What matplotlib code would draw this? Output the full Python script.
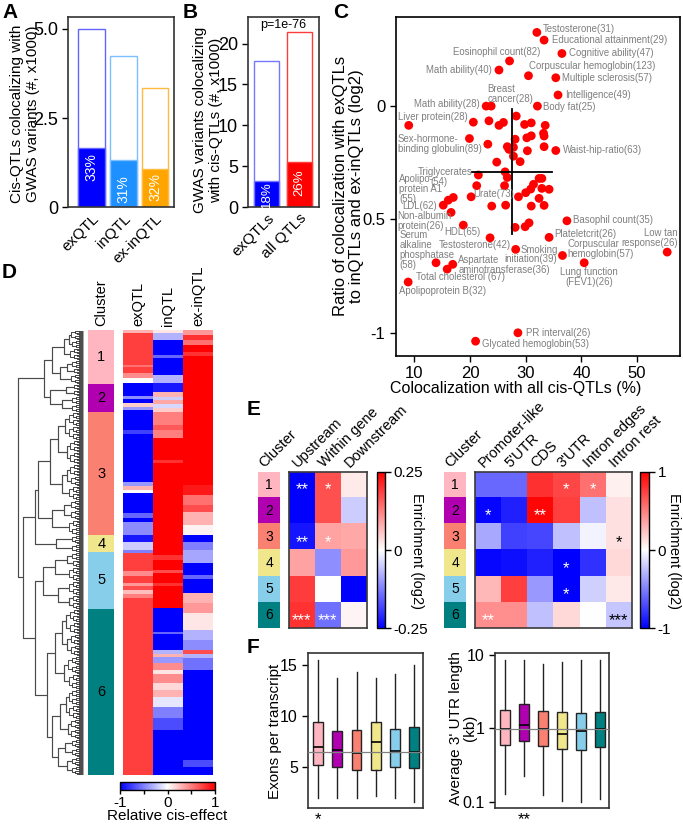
import numpy as np
import matplotlib
matplotlib.use('Agg')
import matplotlib.pyplot as plt
from matplotlib.collections import LineCollection
from matplotlib.colors import ListedColormap, Normalize
import matplotlib.cm as cm
from matplotlib.ticker import FixedLocator

plt.rcParams['font.family'] = ['Liberation Sans', 'DejaVu Sans']

# ---------------- DATA ----------------
# Panel A
A_labels = ["exQTL", "inQTL", "ex-inQTL"]
A_total = [5.0, 4.25, 3.33]
A_coloc = [1.65, 1.315, 1.06]
A_pct = ["33%", "31%", "32%"]
A_pct_pos = [1.14, 0.52, 0.57]
A_colors = ["#0000FF", "#1E90FF", "#FFA500"]
A_edges = ["#6464FF", "#7DBEFF", "#FFBA40"]

# Panel B
B_labels = ["exQTLs", "all QTLs"]
B_total = [17.9, 21.4]
B_coloc = [3.24, 5.56]
B_pct = ["18%", "26%"]
B_pct_pos = [1.55, 3.0]
B_colors = ["#0000FF", "#FF0000"]
B_edges = ["#7878FF", "#FF3C3C"]
B_pval = "p=1e-76"

# Panel C scatter points (colocalization %, log2 ratio)
C_x = [32.0, 33.3, 36.5, 27.1, 25.2, 30.5, 35.4, 35.8, 22.9, 23.8, 32.1, 9.0, 19.9, 35.4,
       21.5, 15.2, 16.1, 17.0, 16.6, 18.8, 23.6, 28.2, 34.2, 37.4, 36.6, 40.5, 55.4, 13.9,
       15.9, 16.9, 8.9, 28.6, 21.0,
       20.6, 23.4, 25.2, 26.0, 28.3, 29.8, 31.0, 33.5, 33.2, 33.3, 30.2, 31.0, 28.1, 23.2,
       26.7, 27.0, 27.8, 30.3, 33.3, 24.8, 27.8, 29.0, 26.3, 26.7, 32.9, 32.4, 21.2, 26.2,
       31.4, 30.9, 30.0, 32.9, 34.2, 28.7, 32.4, 20.2, 23.9, 26.4, 31.0, 33.3, 28.1, 29.9, 30.6]
C_y = [0.325, 0.291, 0.232, 0.199, 0.159, 0.134, 0.125, 0.049, 0.0, 0.0, 0.0, -0.085, -0.143, -0.196,
       -0.304, -0.437, -0.415, -0.403, -0.469, -0.525, -0.581, -0.632, -0.579, -0.506, -0.659, -0.691, -0.644, -0.691,
       -0.719, -0.698, -0.776, -1.0, -1.037,
       -0.071, -0.065, -0.085, -0.072, -0.044, -0.081, -0.074, -0.085, -0.12, -0.132, -0.14, -0.131, -0.146, -0.168,
       -0.179, -0.191, -0.182, -0.197, -0.179, -0.247, -0.221, -0.245, -0.29, -0.315, -0.319, -0.319, -0.351, -0.351,
       -0.345, -0.366, -0.382, -0.363, -0.367, -0.4, -0.407, -0.4, -0.441, -0.437, -0.441, -0.438, -0.535, -0.532, -0.515]
C_center = (27.5, -0.29)
C_xspan = (20.3, 34.8)
C_yspan = (-0.566, -0.013)
C_xticks = [10, 20, 30, 40, 50]
C_yticks = [0, -0.5, -1]
C_yticklabels = ["0", "0.5", "-1"]
C_labels = [
    ("Testosterone(31)", 32.98, 0.340, 'left'),
    ("Educational attainment(29)", 34.67, 0.290, 'left'),
    ("Cognitive ability(47)", 37.83, 0.232, 'left'),
    ("Eosinophil count(82)", 32.57, 0.240, 'right'),
    ("Math ability(40)", 23.9, 0.160, 'right'),
    ("Corpuscular hemoglobin(123)", 30.65, 0.176, 'left'),
    ("Multiple sclerosis(57)", 36.6, 0.124, 'left'),
    ("Intelligence(49)", 37.06, 0.047, 'left'),
    ("Breast\ncancer(28)", 23.17, 0.054, 'left'),
    ("Math ability(28)", 21.8, 0.0075, 'right'),
    ("Body fat(25)", 33.16, -0.006, 'left'),
    ("Liver protein(28)", 7.02, -0.047, 'left'),
    ("Sex-hormone-\nbinding globulin(89)", 7.02, -0.165, 'left'),
    ("Waist-hip-ratio(63)", 36.75, -0.194, 'left'),
    ("Triglycerates", 20.48, -0.291, 'right'),
    ("(54)", 12.8, -0.334, 'left'),
    ("Apolipo-\nprotein A1\n(55)", 7.3, -0.366, 'left'),
    ("Urate(73)", 20.5, -0.388, 'left'),
    ("LDL(62)", 7.85, -0.441, 'left'),
    ("Non-albumin\nprotein(26)", 7.0, -0.508, 'left'),
    ("HDL(65)", 21.97, -0.556, 'right'),
    ("Testosterone(42)", 27.36, -0.612, 'right'),
    ("Smoking", 29.16, -0.635, 'left'),
    ("initiation(39)", 26.16, -0.675, 'left'),
    ("Serum\nalkaline\nphosphatase\n(58)", 7.38, -0.633, 'left'),
    ("Aspartate\naminotransferase(36)", 17.9, -0.700, 'left'),
    ("Total cholesterol (67)", 10.25, -0.756, 'left'),
    ("Apolipoprotein B(32)", 7.25, -0.816, 'left'),
    ("Basophil count(35)", 38.55, -0.503, 'left'),
    ("Plateletcrit(26)", 35.14, -0.566, 'left'),
    ("Corpuscular\nhemoglobin(57)", 37.47, -0.630, 'left'),
    ("Low tan\nresponse(26)", 57.3, -0.583, 'right'),
    ("Lung function\n(FEV1)(26)", 41.36, -0.752, 'center'),
    ("PR interval(26)", 30.05, -1.003, 'left'),
    ("Glycated hemoglobin(53)", 22.2, -1.051, 'left'),
]

# Clusters
cluster_names = ["1", "2", "3", "4", "5", "6"]
cluster_colors = ["#FFB6C1", "#B000B0", "#FA8072", "#F0E68C", "#87CEEB", "#008080"]
cluster_sizes = [54, 28, 123, 17, 57, 166]

# Panel D dendrogram (height, left, right); integers are leaf groups (rows)
C1 = (0.48, (0.30, (0.22, 10, 8), 12), (0.35, (0.24, 8, 6), 10))
C2 = (0.51, (0.27, 6, 6), (0.33, 8, 8))
C3 = (0.70, (0.51, (0.39, (0.28, 14, 14), (0.25, 12, 12)), (0.33, (0.24, 12, 10), 14)),
      (0.48, (0.30, 10, 10), 15))
C4 = (0.42, 9, 8)
C5 = (0.62, (0.43, (0.25, 8, 7), 14), (0.39, 14, (0.22, 7, 7)))
C6 = (0.56, (0.43, (0.33, (0.27, 13, 12), (0.24, 11, 11)), (0.29, 18, 15)),
      (0.48, (0.36, (0.26, 16, 14), (0.23, 10, 10)), (0.39, (0.28, 9, 9), (0.25, 9, 9))))
D_tree = (1.0, (0.61, C1, C2), (0.92, (0.74, C3, C4), (0.74, C5, C6)))

# Panel D heatmap: (end row, relative cis-effect) segments per column
D_columns = ["exQTL", "inQTL", "ex-inQTL"]
D_exQTL = [(3, 0.3), (35, 0.75), (37, 0.55), (43, 0.75), (48, 0.45), (53, 0.0), (66, -1), (69, -0.45),
           (73, -1), (77, 0.2), (80, -0.4), (100, -1), (104, -0.75), (152, -1), (156, -0.4), (160, 0.3),
           (163, 0.0), (183, -1), (188, -0.6), (192, -1), (205, -0.45), (212, -0.9), (220, -0.2), (223, -0.5),
           (241, 0.75), (246, 0.45), (253, 0.75), (256, 0.4), (260, 0.7), (264, 0.25), (268, 0.5), (445, 0.75)]
D_inQTL = [(3, 0.1), (10, -0.3), (25, -1), (28, -0.6), (45, -1), (53, -0.3), (62, -0.9), (67, 0.3),
           (70, -0.2), (74, 0.35), (78, -0.15), (82, 0.2), (95, 0.5), (100, 0.65), (108, 0.5), (130, 1.0),
           (133, 0.8), (225, 1.0), (230, 0.8), (240, 1.0), (243, 0.7), (253, 1.0), (256, 0.8), (278, 1.0),
           (302, -1), (304, -0.6), (320, -1), (324, -0.3), (327, 0.3), (333, -0.4), (340, 0.45), (344, 0.1),
           (353, 0.45), (360, 0.15), (367, 0.3), (377, -0.1), (388, -0.5), (400, -0.7), (445, -1)]
D_exinQTL = [(5, 0.4), (10, 0.8), (15, 0.55), (22, 1.0), (26, 0.8), (155, 1.0), (165, 0.9), (175, 0.55),
             (182, 0.7), (195, 0.3), (205, 0.05), (212, -1), (220, -0.5), (233, -0.35), (245, -1), (249, -0.6),
             (263, -1), (273, 0.3), (283, 0.4), (300, 0.1), (310, -0.3), (320, -0.45), (324, 0.7), (328, -0.3),
             (340, -0.55), (430, -1), (437, -0.7), (445, -1)]

# Panel E
E1_cols = ["Upstream", "Within gene", "Downstream"]
E1_vals = [[-0.25, 0.17, 0.02],
           [-0.25, 0.17, -0.05],
           [-0.23, 0.09, 0.085],
           [0.09, -0.11, 0.10],
           [0.19, 0.0, -0.25],
           [0.20, -0.14, 0.01]]
E1_stars = [["**", "*", ""], ["", "", ""], ["**", "*", ""], ["", "", ""], ["", "", ""], ["***", "***", ""]]
E1_star_colors = [["w", "w", "w"]] * 6
E2_cols = ["Promoter-like", "5'UTR", "CDS", "3'UTR", "Intron edges", "Intron rest"]
E2_vals = [[-0.59, -0.59, 0.81, 0.72, 0.56, 0.06],
           [-0.98, -0.87, 0.97, 0.75, -0.25, 0.12],
           [-0.34, -0.75, -0.72, -0.25, -0.04, 0.12],
           [-0.97, -0.94, -0.87, -1.0, -0.81, 0.15],
           [0.28, 0.75, -0.40, -1.0, -0.18, 0.09],
           [0.44, 0.44, -0.25, 0.15, 0.0, -0.22]]
E2_stars = [["", "", "", "*", "*", ""],
            ["*", "", "**", "", "", ""],
            ["", "", "", "", "", "*"],
            ["", "", "", "*", "", ""],
            ["", "", "", "*", "", ""],
            ["**", "", "", "", "*", "***"]]
E2_star_colors = [["w", "w", "w", "w", "w", "k"]] * 6

# Panel F box summaries
F1_whislo = [2.0, 2.04, 2.04, 2.23, 2.04, 1.65]
F1_q1 = [5.2, 5.0, 4.74, 4.7, 5.0, 4.9]
F1_med = [7.0, 6.66, 6.37, 7.5, 6.63, 6.53]
F1_q3 = [9.4, 8.55, 8.6, 9.46, 8.78, 8.97]
F1_whishi = [15.5, 13.76, 14.34, 13.7, 14.08, 15.0]
F1_ref = 6.5
F2_whislo = [0.127, 0.226, 0.123, 0.103, 0.100, 0.109]
F2_q1 = [0.59, 0.68, 0.58, 0.52, 0.51, 0.55]
F2_med = [0.97, 1.11, 0.98, 0.83, 0.92, 0.99]
F2_q3 = [1.78, 2.15, 1.72, 1.65, 1.60, 1.69]
F2_whishi = [8.5, 8.5, 7.46, 8.1, 8.5, 8.5]
F2_ref = 0.97

# ---------------- FIGURE ----------------
W, H = 683, 836
fig = plt.figure(figsize=(W / 100, H / 100), dpi=100)


def add_ax(x0, y0, x1, y1):
    return fig.add_axes([x0 / W, 1 - y1 / H, (x1 - x0) / W, (y1 - y0) / H])


def ftext(x, y, s, **kw):
    return fig.text(x / W, 1 - y / H, s, **kw)


FRAME = '#333333'


def style_frame(ax, lw=1.2, color=FRAME):
    for sp in ax.spines.values():
        sp.set_linewidth(lw)
        sp.set_color(color)
    ax.tick_params(colors='black', width=1, length=4, direction='out')


# Panel letters
for lab, x, y in [("A", 2, 3), ("B", 183, 3), ("C", 333, 3), ("D", 2, 263), ("E", 247, 400), ("F", 247, 638)]:
    ftext(x, y, lab, fontsize=15, fontweight='bold', va='top', ha='left')

# ---- A ----
axA = add_ax(68.3, 17.3, 174.3, 207.3)
xa = np.arange(len(A_labels))
axA.bar(xa, A_total, width=0.84, facecolor='white', edgecolor=A_edges, linewidth=1.0)
axA.bar(xa, A_coloc, width=0.84, color=A_colors, edgecolor=A_edges, linewidth=1.0)
for i in range(len(xa)):
    axA.text(xa[i], A_pct_pos[i], A_pct[i], rotation=90, color='white', ha='center', va='center', fontsize=10)
axA.set_xlim(-0.74, 2.61)
axA.set_ylim(0, 5.32)
axA.set_yticks([0, 2.5, 5.0])
axA.set_yticklabels(["0", "2.5", "5.0"], fontsize=13)
axA.set_xticks(xa)
axA.set_xticklabels(A_labels, rotation=45, ha='right', rotation_mode='anchor', fontsize=11)
style_frame(axA)
axA.tick_params(axis='x', length=0, pad=3)
ftext(25, 114, "Cis-QTLs colocalizing with\nGWAS variants (#, x1000)", rotation=90, ha='center', va='center',
      fontsize=11, linespacing=1.15)

# ---- B ----
axB = add_ax(248.3, 17.3, 319.3, 207.3)
xb = np.arange(len(B_labels))
axB.bar(xb, B_total, width=0.77, facecolor='white', edgecolor=B_edges, linewidth=1.0)
axB.bar(xb, B_coloc, width=0.77, color=B_colors, edgecolor=B_edges, linewidth=1.0)
for i in range(len(xb)):
    axB.text(xb[i], B_pct_pos[i], B_pct[i], rotation=90, color='white', ha='center', va='center', fontsize=9.5)
axB.text(0.5, 22.3, B_pval, ha='center', va='center', fontsize=9)
axB.set_xlim(-0.57, 1.62)
axB.set_ylim(0, 23.2)
axB.set_yticks([0, 5, 10, 15, 20])
axB.set_yticklabels(["0", "5", "10", "15", "20"], fontsize=13)
axB.set_xticks(xb)
axB.set_xticklabels(B_labels, rotation=45, ha='right', rotation_mode='anchor', fontsize=11)
style_frame(axB)
axB.tick_params(axis='x', length=0, pad=3)
ftext(208, 120, "GWAS variants colocalizing\nwith cis-QTLs (#, x1000)", rotation=90, ha='center', va='center',
      fontsize=11, linespacing=1.15)

# ---- C ----
axC = add_ax(395.7, 17, 680, 355.7)
axC.scatter(C_x, C_y, s=40, color='#FF0000', edgecolors='none', zorder=3)
axC.plot([C_center[0], C_center[0]], C_yspan, color='black', lw=1.3, zorder=4)
axC.plot(C_xspan, [C_center[1], C_center[1]], color='black', lw=1.3, zorder=4)
for txt, x, y, ha in C_labels:
    axC.text(x, y, txt, ha=ha, va='center', fontsize=6.9, color='#7f7f7f', linespacing=1.0,
             multialignment=ha, zorder=5)
axC.set_xlim(6.66, 57.7)
axC.set_ylim(-1.101, 0.393)
axC.set_xticks(C_xticks)
axC.set_xticklabels([str(t) for t in C_xticks], fontsize=12)
axC.set_yticks(C_yticks)
axC.set_yticklabels(C_yticklabels, fontsize=12)
style_frame(axC, color='black')
ftext(348.5, 186, "Ratio of colocalization with exQTLs\nto inQTLs and ex-inQTLs (log2)", rotation=90,
      ha='center', va='center', fontsize=12, linespacing=1.1)
ftext(516, 388, "Colocalization with all cis-QTLs (%)", ha='center', va='center', fontsize=11.5)

# ---- D ----
NROW = sum(cluster_sizes)
fine_segs = []
coarse_segs = []
fuzz_step = 0.055


def leafgroup(y0, n):
    if n == 1:
        return y0 + 0.5, 0.0
    a = n // 2
    yl, hl = leafgroup(y0, a)
    yr, hr = leafgroup(y0 + a, n - a)
    h = fuzz_step * np.log2(n)
    fine_segs.append([(hl, yl), (h, yl), (h, yr), (hr, yr)])
    return (yl + yr) / 2, h


def build(tree, y0):
    if isinstance(tree, int):
        yc, h = leafgroup(y0, tree)
        return yc, h, tree
    h, l, r = tree
    yl, hl, nl = build(l, y0)
    yr, hr, nr = build(r, y0 + nl)
    coarse_segs.append([(hl, yl), (h, yl), (h, yr), (hr, yr)])
    return (yl + yr) / 2, h, nl + nr


yroot, hroot, _ = build(D_tree, 0)
axDen = add_ax(14, 330, 84, 775)
axDen.add_collection(LineCollection(fine_segs, colors='black', linewidths=0.5))
axDen.add_collection(LineCollection(coarse_segs, colors='#4a4a4a', linewidths=0.85))
axDen.set_xlim(1.066, -0.0155)
axDen.set_ylim(NROW, 0)
axDen.axis('off')

axCl = add_ax(88.3, 330, 114.3, 775)
start = 0
for name, c, n in zip(cluster_names, cluster_colors, cluster_sizes):
    axCl.axhspan(start, start + n, color=c, lw=0)
    axCl.text(0.5, start + n / 2, name, ha='center', va='center', fontsize=10.5)
    start += n
axCl.set_xlim(0, 1)
axCl.set_ylim(NROW, 0)
axCl.axis('off')


def expand(segs):
    col = np.zeros(NROW)
    s = 0
    for end, v in segs:
        col[s:end] = v
        s = end
    return col


D_mat = np.column_stack([expand(D_exQTL), expand(D_inQTL), expand(D_exinQTL)])
axHm = add_ax(123.3, 330, 213.3, 775)
axHm.imshow(D_mat, cmap='bwr', vmin=-1, vmax=1, aspect='auto', interpolation='nearest',
            extent=(0, 3, NROW, 0))
axHm.axis('off')

ftext(101.3, 326, "Cluster", rotation=90, ha='center', va='bottom', fontsize=10.5)
for i, name in enumerate(D_columns):
    ftext(123.3 + 30 * (i + 0.5), 326, name, rotation=90, ha='center', va='bottom', fontsize=10.5)

caxD = add_ax(120, 781.7, 215, 790)
cbD = fig.colorbar(cm.ScalarMappable(norm=Normalize(-1, 1), cmap='bwr'), cax=caxD, orientation='horizontal',
                   ticks=[-1, 0, 1])
cbD.ax.set_xticklabels(["-1", "0", "1"], fontsize=11)
cbD.ax.xaxis.set_minor_locator(FixedLocator([-0.5, 0.5]))
cbD.ax.tick_params(which='both', length=3, width=1, pad=1)
cbD.outline.set_linewidth(1)
ftext(167.5, 816, "Relative cis-effect", ha='center', va='center', fontsize=11)

# ---- E ----
row_top, row_bot = 471.7, 628.3


def cluster_col(x0, x1):
    ax = add_ax(x0, row_top, x1, row_bot)
    ax.imshow(np.arange(6).reshape(6, 1), cmap=ListedColormap(cluster_colors), vmin=-0.5, vmax=5.5,
              aspect='auto', interpolation='nearest')
    for i, name in enumerate(cluster_names):
        ax.text(0, i, name, ha='center', va='center', fontsize=10)
    ax.axis('off')
    ftext((x0 + x1) / 2 - 5, row_top - 4, "Cluster", rotation=45, rotation_mode='anchor', ha='left',
          va='baseline', fontsize=10.5)
    return ax


def enrich_map(x0, x1, vals, cols, stars, star_colors, vlim):
    ax = add_ax(x0, row_top, x1, row_bot)
    ax.imshow(np.array(vals), cmap='bwr', vmin=-vlim, vmax=vlim, aspect='auto', interpolation='nearest')
    for r in range(len(vals)):
        for c in range(len(cols)):
            if stars[r][c]:
                ax.text(c, r + 0.2, stars[r][c], ha='center', va='center', fontsize=12,
                        color=star_colors[r][c])
    ax.set_xticks([])
    ax.set_yticks([])
    style_frame(ax, lw=1.2, color='#3a3a3a')
    cw = (x1 - x0) / len(cols)
    for c, name in enumerate(cols):
        ftext(x0 + cw * (c + 0.5) - 4, row_top - 4, name, rotation=45, rotation_mode='anchor', ha='left',
              va='baseline', fontsize=10.5)
    return ax


cluster_col(258.3, 280)
enrich_map(289, 366.7, E1_vals, E1_cols, E1_stars, E1_star_colors, 0.25)
caxE1 = add_ax(376.7, row_top, 385, row_bot)
cb1 = fig.colorbar(cm.ScalarMappable(norm=Normalize(-0.25, 0.25), cmap='bwr'), cax=caxE1,
                   ticks=[-0.25, 0, 0.25])
cb1.ax.set_yticklabels(["-0.25", "0", "0.25"], fontsize=11)
cb1.ax.tick_params(length=4, width=1, pad=2)
cb1.outline.set_linewidth(1)
ftext(417, 551, "Enrichment (log2)", rotation=270, ha='center', va='center', fontsize=10.5)

cluster_col(444, 466)
enrich_map(475, 631.7, E2_vals, E2_cols, E2_stars, E2_star_colors, 1.0)
caxE2 = add_ax(640, row_top, 649.3, row_bot)
cb2 = fig.colorbar(cm.ScalarMappable(norm=Normalize(-1, 1), cmap='bwr'), cax=caxE2, ticks=[-1, 0, 1])
cb2.ax.set_yticklabels(["-1", "0", "1"], fontsize=11)
cb2.ax.tick_params(length=4, width=1, pad=2)
cb2.outline.set_linewidth(1)
ftext(674, 551, "Enrichment (log2)", rotation=270, ha='center', va='center', fontsize=10.5)


# ---- F ----
def boxes(ax, whislo, q1, med, q3, whishi):
    stats = [dict(whislo=a, q1=b, med=c, q3=d, whishi=e, fliers=[]) for a, b, c, d, e in
             zip(whislo, q1, med, q3, whishi)]
    bp = ax.bxp(stats, positions=np.arange(len(stats)), widths=0.52, patch_artist=True, showfliers=False,
                showcaps=False,
                boxprops=dict(edgecolor='#222222', linewidth=1.0),
                medianprops=dict(color='black', linewidth=1.2),
                whiskerprops=dict(color='#222222', linewidth=1.0))
    for patch, c in zip(bp['boxes'], cluster_colors):
        patch.set_facecolor(c)
    ax.set_xlim(-0.52, 5.49)
    ax.set_xticks([])
    style_frame(ax)


axF1 = add_ax(308.3, 653.3, 423.3, 808.3)
boxes(axF1, F1_whislo, F1_q1, F1_med, F1_q3, F1_whishi)
axF1.axhline(F1_ref, color='#808080', lw=0.9, zorder=5)
axF1.set_ylim(1.0, 16.14)
axF1.set_yticks([5, 10, 15])
axF1.set_yticklabels(["5", "10", "15"], fontsize=11.5)
axF1.text(0, -0.07, "*", transform=axF1.get_xaxis_transform(), ha='center', va='center', fontsize=12)
ftext(275, 731, "Exons per transcript", rotation=90, ha='center', va='center', fontsize=11)

axF2 = add_ax(495, 653.3, 609.3, 808.3)
boxes(axF2, F2_whislo, F2_q1, F2_med, F2_q3, F2_whishi)
axF2.axhline(F2_ref, color='#808080', lw=0.9, zorder=5)
axF2.set_yscale('log')
axF2.set_ylim(10 ** -1.09, 10 ** 1.023)
axF2.set_yticks([0.1, 1, 10])
axF2.set_yticklabels(["0.1", "1", "10"], fontsize=11.5)
axF2.yaxis.set_minor_locator(FixedLocator([]))
axF2.text(1, -0.07, "**", transform=axF2.get_xaxis_transform(), ha='center', va='center', fontsize=12)
ftext(463, 728, "Average 3' UTR length\n(kb)", rotation=90, ha='center', va='center', fontsize=11,
      linespacing=0.95)

fig.savefig("out.png", dpi=100)
